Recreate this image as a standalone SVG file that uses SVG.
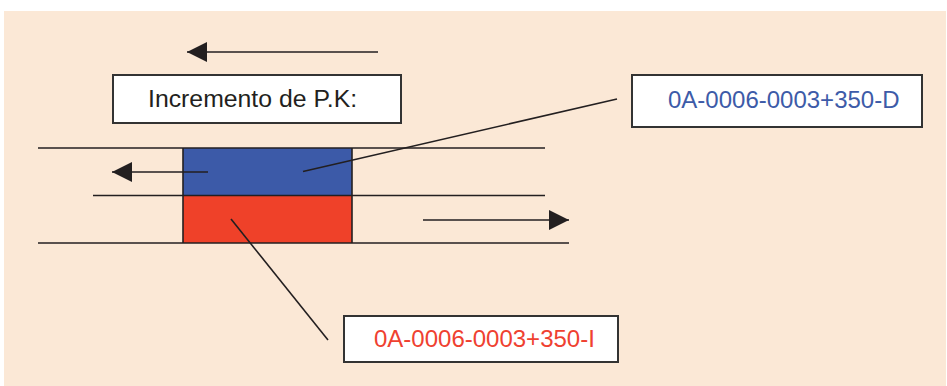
<svg xmlns="http://www.w3.org/2000/svg" width="947" height="386" viewBox="0 0 947 386">
<style>
.ln{stroke:#231f20;stroke-width:1.6;fill:none}
.box{fill:#ffffff;stroke:#333333;stroke-width:2}
.lbl{font-family:"Liberation Sans",Arial,sans-serif;font-size:24px}
</style>
<defs>
<marker id="ah" viewBox="0 0 20 20" refX="20" refY="10" markerWidth="20" markerHeight="20" markerUnits="userSpaceOnUse" orient="auto">
<path d="M0,0 L20,10 L0,20 Z" fill="#231f20"/>
</marker>
</defs>
<rect x="0" y="0" width="947" height="386" fill="#ffffff"/>
<rect x="4" y="11" width="942" height="375" fill="#fbe8d6"/>
<g id="lanes">
<rect x="183" y="148" width="169" height="47" fill="#3c5aa8"/>
<rect x="183" y="195" width="169" height="48" fill="#ef4129"/>
<line class="ln" x1="38" y1="148" x2="545" y2="148"/>
<line class="ln" x1="93" y1="195.5" x2="545" y2="195.5"/>
<line class="ln" x1="38" y1="243" x2="569" y2="243"/>
<line class="ln" x1="183" y1="148" x2="183" y2="243"/>
<line class="ln" x1="352" y1="148" x2="352" y2="243"/>
</g>
<g id="connectors">
<line class="ln" x1="378" y1="52" x2="187" y2="52" marker-end="url(#ah)"/>
<line class="ln" x1="208" y1="172" x2="112" y2="172" marker-end="url(#ah)"/>
<line class="ln" x1="423" y1="220" x2="569" y2="220" marker-end="url(#ah)"/>
<line class="ln" x1="303" y1="171.5" x2="617" y2="99"/>
<line class="ln" x1="231" y1="219" x2="328" y2="340"/>
</g>
<g id="incremento">
<rect class="box" x="113" y="75" width="288" height="48"/>
<text class="lbl" x="148" y="107" style="font-size:24.8px" fill="#231f20">Incremento de P.K:</text>
</g>
<g id="id-d">
<rect class="box" x="632" y="75" width="290" height="52"/>
<text class="lbl" x="668" y="108" fill="#3d5ba8">0A-0006-0003+350-D</text>
</g>
<g id="id-i">
<rect class="box" x="344" y="316" width="274" height="46"/>
<text class="lbl" x="374" y="347" fill="#ef4130">0A-0006-0003+350-I</text>
</g>
</svg>
